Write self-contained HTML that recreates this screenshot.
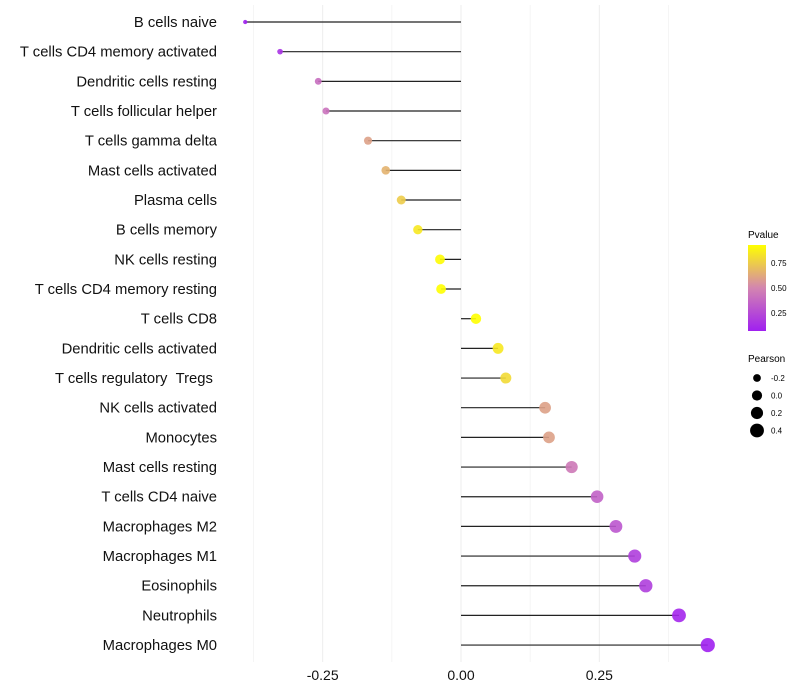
<!DOCTYPE html>
<html><head><meta charset="utf-8"><style>
body{margin:0;background:#fff;font-family:"Liberation Sans",Arial,sans-serif;}
svg{display:block}
</style></head><body>
<svg id="chart" width="800" height="700" xmlns="http://www.w3.org/2000/svg">
<defs><linearGradient id="pgrad" x1="0" y1="1" x2="0" y2="0">
<stop offset="0" stop-color="#A020F0"/><stop offset="0.5" stop-color="#D385B0"/><stop offset="1" stop-color="#FFFF00"/>
</linearGradient></defs>
<g id="grid"></g><g id="marks"></g><g id="labels"></g>
<g>
<text x="748" y="238" font-size="10">Pvalue</text>
<rect x="748" y="245" width="18" height="86" fill="url(#pgrad)"/>
<text x="771" y="266" font-size="8">0.75</text>
<text x="771" y="291" font-size="8">0.50</text>
<text x="771" y="316" font-size="8">0.25</text>
</g>
<g id="sizeLegend">
<text x="748" y="362" font-size="10">Pearson</text>
</g>
</svg>
<script>
const categories=["B cells naive","T cells CD4 memory activated","Dendritic cells resting","T cells follicular helper","T cells gamma delta","Mast cells activated","Plasma cells","B cells memory","NK cells resting","T cells CD4 memory resting","T cells CD8","Dendritic cells activated","T cells regulatory\u00a0\u00a0Tregs\u00a0","NK cells activated","Monocytes","Mast cells resting","T cells CD4 naive","Macrophages M2","Macrophages M1","Eosinophils","Neutrophils","Macrophages M0"];
const pearson=[-0.39,-0.327,-0.258,-0.244,-0.168,-0.136,-0.108,-0.078,-0.038,-0.036,0.027,0.067,0.081,0.152,0.159,0.2,0.246,0.28,0.314,0.334,0.394,0.446];
const pvalues=[0.07,0.15,0.4,0.42,0.6,0.66,0.75,0.85,0.92,0.93,0.93,0.85,0.8,0.6,0.6,0.45,0.35,0.3,0.2,0.2,0.1,0.07];
const xTicks=[-0.25,0,0.25];
const xTickLabels=["-0.25","0.00","0.25"];
const sizeLegendValues=[-0.2,0,0.2,0.4];
const NS="http://www.w3.org/2000/svg";
const x=v=>461+v*553.3;
const y=i=>22+i*29.67;
const r=v=>Math.sqrt(Math.max(2,26+55*v));
function lerp(a,b,t){return a.map((c,i)=>Math.round(c+(b[i]-c)*t));}
function col(p){let t=(p-0.07)/(0.93-0.07);t=Math.max(0,Math.min(1,t));
const lo=[160,32,240],mid=[211,133,176],hi=[255,255,0];
const c=t<0.5?lerp(lo,mid,t*2):lerp(mid,hi,(t-0.5)*2);return `rgb(${c})`;}
function mk(tag,at,parent){const e=document.createElementNS(NS,tag);for(const k in at)e.setAttribute(k,at[k]);parent.appendChild(e);return e;}
const grid=document.getElementById('grid'),marks=document.getElementById('marks'),labels=document.getElementById('labels');
for(let v=-0.375;v<=0.45;v+=0.125){const g=mk('line',{x1:x(v),x2:x(v),y1:5,y2:662,stroke:Math.abs((v/0.25)%1)<1e-6?'#ededed':'#f5f5f5','stroke-width':1},grid);

}
xTicks.forEach((v,i)=>{const t=mk('text',{x:x(v),y:680,'font-size':14,'text-anchor':'middle',fill:'#111'},labels);t.textContent=xTickLabels[i];

});
categories.forEach((c,i)=>{
const t=mk('text',{x:217,y:y(i)+5,'font-size':14.8,'text-anchor':'end',fill:'#111'},labels);t.textContent=c;


const l=mk('line',{x1:x(0),x2:x(pearson[i]),y1:y(i),y2:y(i),stroke:'#222','stroke-width':1.2},marks);


const d=mk('circle',{cx:x(pearson[i]),cy:y(i),r:r(pearson[i]),fill:col(pvalues[i]),'fill-opacity':0.9},marks);


});
const sl=document.getElementById('sizeLegend');
sizeLegendValues.forEach((v,i)=>{const cy=378+i*17.5;
const d=mk('circle',{cx:757,cy:cy,r:r(v),fill:'#000'},sl);


const t=mk('text',{x:771,y:cy+3,'font-size':8},sl);t.textContent=v===0?'0.0':String(v);

});
</script>
</body></html>
